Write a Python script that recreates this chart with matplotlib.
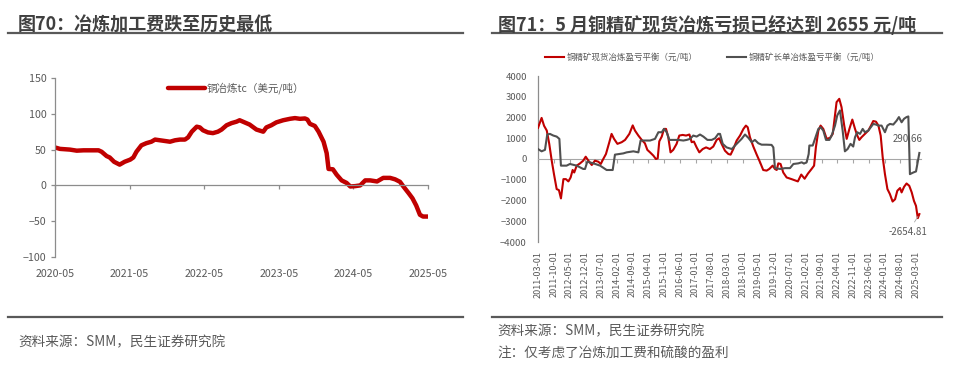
import matplotlib.pyplot as plt
from matplotlib.lines import Line2D

plt.rcParams['font.family'] = ['Noto Sans CJK SC', 'DejaVu Sans']

# ---- left chart: copper smelting TC (USD/t), x = months since 2020-05
tc_month = [0, 0.8, 2.4, 3.5, 4.6, 5.6, 7, 7.5, 8.3, 8.8, 9.5, 10.4, 11.2, 12.1, 12.6, 13.1,
            13.9, 14.7, 15.5, 16.1, 16.9, 17.7, 18.5, 19.3, 20.1, 20.9, 21.4, 22, 22.8, 23.3,
            23.8, 24.6, 25.4, 26.2, 26.8, 27.6, 28.4, 29.2, 29.7, 30.5, 31.3, 32.4, 33.5, 34,
            34.8, 35.6, 36.7, 37.8, 38.6, 39.4, 40.2, 40.6, 41, 41.8, 42.4, 43.2, 43.7, 44,
            44.7, 45.3, 46.1, 46.9, 47.5, 48.3, 49.1, 49.9, 50.7, 51.8, 52.8, 53.9, 54.7, 55.5,
            56, 56.9, 57.5, 58.1, 58.7, 59.2, 60]
tc_value = [53, 51, 50, 48.5, 49, 49, 49, 47, 41, 39, 33, 29, 33, 36, 39, 47,
            56, 59, 61, 64, 63, 62, 61, 63, 64, 64, 67, 75, 82, 81,
            77, 74, 73, 75, 78, 84, 87, 89, 91, 88, 85, 78, 75, 81,
            84, 88, 91, 93, 94, 93, 93.5, 92, 86, 83, 75, 61, 45, 23,
            22.5, 15, 7, 3.5, -1.5, -1, 0, 7, 7, 5.5, 10.5, 10.5, 8.5, 5,
            -1, -11, -18, -28, -41, -43.5, -43.5]
tc_ticks = ['2020-05', '2021-05', '2022-05', '2023-05', '2024-05', '2025-05']

# ---- right chart: smelting break-even (CNY/t), x = months since 2011-03
spot_month = [0, 1.6, 2.7, 3.9, 5.0, 6.1, 7.1, 8.3, 9.3, 10.2, 11.3, 12.4, 13.5, 14.5, 15.4,
              16.1, 17.2, 18.7, 20.1, 21.2, 22.4, 23.9, 25.3, 26.8, 27.9, 29.0, 30.2, 31.7,
              32.7, 33.8, 35.3, 37.2, 38.7, 40.6, 42.1, 43.1, 44.6, 46.1, 47.5, 48.6, 49.8,
              51.3, 52.4, 53.2, 53.9, 55, 56, 56.9, 57.9, 58.9, 60.1, 61.6, 62.8, 64.3, 65.8,
              67.3, 68.3, 69.3, 70.5, 71.7, 73.2, 74.7, 76.4, 77.9, 79.4, 80.5, 81.6, 83.1,
              84.6, 85.6, 86.8, 88.3, 89.8, 91.3, 92.4, 93.2, 94.2, 95.7, 97.2, 98.7, 100.1,
              101.6, 102.8, 104.3, 105.3, 106.1, 106.8, 107.8, 109, 110.5, 112.7, 115.5, 117,
              118.5, 120, 121.6, 122.7, 123.5, 124.6, 125.6, 126.8, 128.3, 129.8, 131, 131.7,
              132.7, 133.9, 134.9, 136.1, 137.2, 138.4, 139.7, 140.9, 141.9, 142.8, 143.8,
              145.3, 146.8, 148, 149, 150.2, 151.3, 152.3, 153.2, 154.2, 155.3, 156.4, 157.6,
              158.7, 159.7, 160.9, 161.6, 162.7, 163.8, 165, 166.1, 167.1, 168, 168.8, 169.5]
spot_value = [1500, 1980, 1600, 1370, 730, -80, -730, -1450, -1500, -1900, -970, -970, -1080, -890, -530,
              -650, -320, -210, -80, 110, -80, -290, -80, -130, -240, 0, 240, 810,
              1210, 970, 730, 810, 920, 1210, 1620, 1370, 1130, 920, 760, 440, 320,
              160, 0, 30, 850, 1080, 1450, 1450, 1050, 320, 440, 730, 1130, 1160, 1130,
              1180, 810, 840, 560, 320, 480, 560, 480, 600, 920, 1000, 730, 400,
              240, 210, 480, 890, 1130, 1450, 1610, 1530, 1050, 600, 210, -160, -530,
              -560, -480, -320, -480, -530, -210, -240, -650, -890, -970, -1080, -750,
              -950, -700, -480, -320, 560, 1370, 1610, 1450, 970, 1020, 1210, 1850,
              2740, 2900, 2500, 1610, 970, 1450, 1900, 1450, 1130, 920, 1050,
              1210, 1370, 1610, 1830, 1800, 1610, 1130, 80, -730, -1450, -1690, -2050,
              -1940, -1530, -1400, -1610, -1340, -1180, -1290, -1610, -2020, -2260, -2850, -2654.81]
long_month = [0, 1.6, 3.1, 4.1, 5.3, 6.8, 8.3, 9.5, 10.2, 12.7, 14.2, 17.2, 20.1, 20.9, 21.9,
              24.6, 27.6, 30.5, 33.2, 34.2, 37.9, 39.4, 42.4, 44.6, 45.6, 47.5, 49.8, 52, 53.5,
              55, 56, 57.2, 58.4, 60.1, 62.4, 64.6, 66.1, 67.6, 69, 70.5, 72, 73.5, 75.3, 77.2,
              78.7, 80.1, 80.9, 82.1, 83.8, 86.1, 88.3, 90.5, 92, 93.5, 95, 96.4, 97.9, 99.4,
              101.6, 103.8, 104.6, 105.3, 107.6, 109.8, 112, 113.5, 115.7, 117.2, 118.2, 119.4,
              120.3, 120.6, 122.1, 123.1, 124.6, 125.6, 126.8, 128, 129.5, 130.5, 132, 133,
              134.2, 135.4, 136.4, 137.6, 138.9, 140.1, 140.9, 141.9, 143.1, 144.3, 145.3,
              146.8, 147.9, 149, 150.2, 151.3, 152.7, 154.2, 155.3, 156.4, 157.9, 159.4, 160.4,
              161.6, 162.7, 163.8, 164.6, 165.3, 166.8, 168, 169.5]
long_value = [480, 370, 440, 1180, 1210, 1130, 1080, 970, -320, -320, -240, -320, -480, -480, -130,
              -210, -320, -530, -530, 210, 270, 320, 370, 320, 890, 890, 890, 970, 1290,
              1290, 1450, 1290, 920, 920, 920, 890, 920, 970, 1130, 1080, 1180, 1080, 920, 920,
              1000, 1210, 1210, 730, 560, 480, 730, 970, 1180, 1020, 810, 920, 760, 690,
              690, 680, 560, -440, -480, -440, -440, -240, -210, -160, -220, -160,
              240, 650, 650, 970, 1450, 1530, 1370, 920, 920, 1130, 1610, 2100,
              2340, 1370, 370, 480, 730, 600, 1050, 1290, 1210, 1450, 1290,
              1370, 1530, 1690, 1660, 1610, 1610, 1290, 1610, 1690, 1660, 1850, 2020,
              1770, 1940, 2020, 2050, -730, -650, -600, 290.66]
bal_ticks = ['2011-03-01', '2011-10-01', '2012-05-01', '2012-12-01', '2013-07-01', '2014-02-01',
             '2014-09-01', '2015-04-01', '2015-11-01', '2016-06-01', '2017-01-01', '2017-08-01',
             '2018-03-01', '2018-10-01', '2019-05-01', '2019-12-01', '2020-07-01', '2021-02-01',
             '2021-09-01', '2022-04-01', '2022-11-01', '2023-06-01', '2024-01-01', '2024-08-01',
             '2025-03-01']

RED = '#C00000'
GREY = '#505050'
TXT = '#595959'
AX = '#8C8C8C'
W, H = 957, 381

fig = plt.figure(figsize=(W / 100, H / 100), dpi=100)

# titles, rules, sources
fig.text(18 / W, 1 - 25 / H, '图70：冶炼加工费跌至历史最低', fontsize=13, fontweight='bold',
         color='#404040', va='center')
fig.text(498 / W, 1 - 25 / H, '图71：5 月铜精矿现货冶炼亏损已经达到 2655 元/吨', fontsize=13,
         fontweight='bold', color='#404040', va='center')
for x0, x1 in [(8, 463), (492, 942)]:
    fig.add_artist(Line2D([x0 / W, x1 / W], [1 - 33 / H] * 2, color=TXT, lw=1.6))
    fig.add_artist(Line2D([x0 / W, x1 / W], [1 - 317 / H] * 2, color=TXT, lw=1.6))
fig.text(18 / W, 1 - 342 / H, '资料来源：SMM，民生证券研究院', fontsize=9.8, color=TXT, va='center')
fig.text(497 / W, 1 - 331 / H, '资料来源：SMM，民生证券研究院', fontsize=9.8, color=TXT, va='center')
fig.text(497 / W, 1 - 354 / H, '注：仅考虑了冶炼加工费和硫酸的盈利', fontsize=9.8, color=TXT, va='center')

# ---- left chart
ax1 = fig.add_axes([55 / W, 1 - 257 / H, 373 / W, 179 / H])
ax1.plot(tc_month, tc_value, color=RED, lw=3.2, solid_capstyle='round', solid_joinstyle='round',
         label='铜冶炼tc（美元/吨）')
ax1.set_xlim(0, 60)
ax1.set_ylim(-100, 150)
for s in ['top', 'right']:
    ax1.spines[s].set_visible(False)
ax1.spines['bottom'].set_position(('data', 0))
for s in ['bottom', 'left']:
    ax1.spines[s].set_color(AX)
    ax1.spines[s].set_linewidth(0.9)
ax1.set_yticks(range(-100, 151, 50))
ax1.set_xticks(range(0, 61, 12), labels=tc_ticks)
ax1.tick_params(axis='y', length=3, width=0.9, color=AX, labelcolor=TXT, labelsize=7.7, pad=3)
ax1.tick_params(axis='x', length=3, width=0.9, color=AX, labelcolor=TXT, labelsize=7.7, pad=57)
ax1.legend(loc='center left', bbox_to_anchor=(168 / W, 1 - 88 / H), bbox_transform=fig.transFigure,
           frameon=False, fontsize=7.6, handlelength=3.5, handletextpad=0.2, borderpad=0,
           borderaxespad=0, labelcolor=TXT)

# ---- right chart
ax2 = fig.add_axes([538 / W, 1 - 242 / H, 382.5 / W, 166 / H])
ax2.plot(spot_month, spot_value, color=RED, lw=1.5, zorder=3, label='铜精矿现货冶炼盈亏平衡（元/吨）')
ax2.plot(long_month, long_value, color=GREY, lw=1.5, zorder=3, label='铜精矿长单冶炼盈亏平衡（元/吨）')
ax2.set_xlim(0, 170)
ax2.set_ylim(-4000, 4000)
for s in ['top', 'right']:
    ax2.spines[s].set_visible(False)
ax2.spines['bottom'].set_position(('data', 0))
ax2.spines['bottom'].set_color('#A6A6A6')
ax2.spines['left'].set_color(AX)
ax2.spines['left'].set_linewidth(0.9)
ax2.set_yticks(range(-4000, 4001, 1000))
ax2.set_xticks(range(0, 169, 7), labels=bal_ticks, rotation=90)
ax2.tick_params(axis='y', length=0, labelcolor=TXT, labelsize=6.8, pad=8)
ax2.tick_params(axis='x', length=3, width=0.8, color='#A6A6A6', labelcolor=TXT, labelsize=6.5, pad=63)
ax2.legend(loc='center left', bbox_to_anchor=(545 / W, 1 - 57 / H), bbox_transform=fig.transFigure,
           frameon=False, fontsize=6.1, ncol=2, handlelength=2.3, handletextpad=0.3,
           columnspacing=3.4, borderpad=0, borderaxespad=0, labelcolor=TXT)
ax2.annotate('290.66', xy=(long_month[-1], long_value[-1]), xytext=(-8.5, 10), textcoords='offset points',
             ha='center', va='center', fontsize=7, color=TXT, zorder=1)
ax2.annotate('-2654.81', xy=(spot_month[-1], spot_value[-1]), xytext=(-8, -13), textcoords='offset points',
             ha='center', va='center', fontsize=7, color=TXT,
             arrowprops=dict(arrowstyle='-', color='#A6A6A6', lw=0.6))

fig.savefig('out.png', dpi=100)
